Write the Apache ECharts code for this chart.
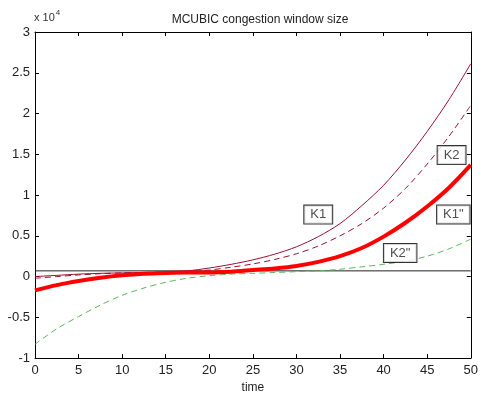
<!DOCTYPE html>
<html>
<head>
<meta charset="utf-8">
<script src="https://cdn.jsdelivr.net/npm/echarts@6/dist/echarts.min.js"></script>
<style>
  html, body { margin: 0; padding: 0; background: #fff; }
  #main { width: 481px; height: 399px; }
</style>
</head>
<body>
<div id="main"></div>
<script>
// time samples (x axis)
const time = [0, 2.5, 5, 7.5, 10, 12.5, 15, 17.5, 20, 22.5, 25, 27.5, 30, 32.5, 35, 37.5, 40, 42.5, 45, 47.5, 50];
// window sizes (raw units, axis shows x 10^4)
const k1 = [0, 150, 300, 400, 450, 500, 550, 700, 1050, 1500, 2050, 2750, 3650, 4900, 6500, 8700, 11200, 14300, 17800, 21700, 26100];
const k2 = [-200, 0, 200, 350, 450, 500, 550, 600, 800, 1150, 1550, 2100, 2800, 3750, 5000, 6500, 8400, 10800, 13800, 17200, 21000];
const k1b = [-1700, -1050, -550, -150, 150, 350, 450, 500, 500, 600, 800, 1000, 1300, 1800, 2500, 3500, 4900, 6600, 8600, 10900, 13700];
const k2b = [-8300, -6400, -4900, -3500, -2300, -1400, -700, -200, 100, 300, 400, 500, 600, 700, 900, 1200, 1500, 1900, 2500, 3400, 4600];
const wmax = [700, 700];
const wmaxTime = [0, 50];
const yTicks = [-10000, 30000, 5000];
const xTicks = [0, 50, 5];
// text boxes on the curves
const tags = [
  { name: 'K1', x: 32.5, y: 7600 },
  { name: 'K2', x: 47.8, y: 14900 },
  { name: 'K1"', x: 48.0, y: 7600 },
  { name: 'K2"', x: 41.9, y: 2900 }
];

const pairs = (xs, ys) => xs.map((x, i) => [x, ys[i]]);
const font = 'Liberation Sans, Arial, sans-serif';

const chart = echarts.init(document.getElementById('main'));

const xAxisBase = {
  type: 'value',
  min: xTicks[0],
  max: xTicks[1],
  interval: xTicks[2],
  splitLine: { show: false },
  axisLine: { onZero: false, lineStyle: { color: '#000', width: 1 } },
  axisTick: { inside: true, length: 4, lineStyle: { color: '#000' } }
};
const yAxisBase = {
  type: 'value',
  min: yTicks[0],
  max: yTicks[1],
  interval: yTicks[2],
  splitLine: { show: false },
  axisLine: { onZero: false, lineStyle: { color: '#000', width: 1 } },
  axisTick: { inside: true, length: 4, lineStyle: { color: '#000' } }
};

const option = {
  backgroundColor: '#fff',
  animation: false,
  title: {
    text: 'MCUBIC congestion window size',
    left: 255,
    textAlign: 'center',
    top: 9,
    textStyle: { fontFamily: font, fontSize: 12, fontWeight: 'normal', color: '#222' }
  },
  grid: { left: 35, right: 8, top: 32, bottom: 34 },
  xAxis: [
    Object.assign({}, xAxisBase, {
      position: 'bottom',
      name: 'time',
      nameLocation: 'middle',
      nameGap: 21,
      nameTextStyle: { fontFamily: font, fontSize: 12, color: '#222' },
      axisLabel: { fontFamily: font, fontSize: 13, color: '#222', margin: 6 }
    }),
    Object.assign({}, xAxisBase, { position: 'top', axisLabel: { show: false } })
  ],
  yAxis: [
    Object.assign({}, yAxisBase, {
      position: 'left',
      axisLabel: {
        fontFamily: font, fontSize: 13, color: '#222', margin: 5,
        formatter: v => String(v / 10000)
      }
    }),
    Object.assign({}, yAxisBase, { position: 'right', axisLabel: { show: false } })
  ],
  graphic: [
    {
      type: 'text',
      left: 34,
      top: 9,
      style: {
        text: '{a|x 10}{b|4}',
        rich: {
          a: { fontFamily: font, fontSize: 11, fill: '#333', padding: [4, 0, 0, 0] },
          b: { fontFamily: font, fontSize: 8, fill: '#333', padding: [0, 0, 6, 1] }
        }
      }
    }
  ],
  series: [
    {
      type: 'line', data: pairs(wmaxTime, wmax), symbol: 'none',
      lineStyle: { color: '#222', width: 1 }, z: 2
    },
    {
      type: 'line', data: pairs(time, k2b), symbol: 'none', smooth: 0.3,
      lineStyle: { color: '#5cb85c', width: 1, type: [6, 4] }, z: 3
    },
    {
      type: 'line', data: pairs(time, k2), symbol: 'none', smooth: 0.3,
      lineStyle: { color: '#9a1030', width: 1, type: [6, 4] }, z: 3
    },
    {
      type: 'line', data: pairs(time, k1), symbol: 'none', smooth: 0.3,
      lineStyle: { color: '#9a1030', width: 1 }, z: 3
    },
    {
      type: 'line', data: pairs(time, k1b), symbol: 'none', smooth: 0.3,
      lineStyle: { color: '#ff0000', width: 4 }, z: 4
    },
    {
      type: 'scatter',
      symbolSize: 0,
      data: tags.map(t => ({ name: t.name, value: [t.x, t.y] })),
      label: {
        show: true,
        position: 'inside',
        formatter: p => p.name,
        fontFamily: font,
        fontSize: 13,
        color: '#222',
        backgroundColor: '#fff',
        borderColor: '#000',
        borderWidth: 1,
        padding: [3, 6, 2, 6]
      },
      z: 10
    }
  ]
};

chart.setOption(option);
window.onresize = () => {
  chart.resize();
};
</script>
</body>
</html>
